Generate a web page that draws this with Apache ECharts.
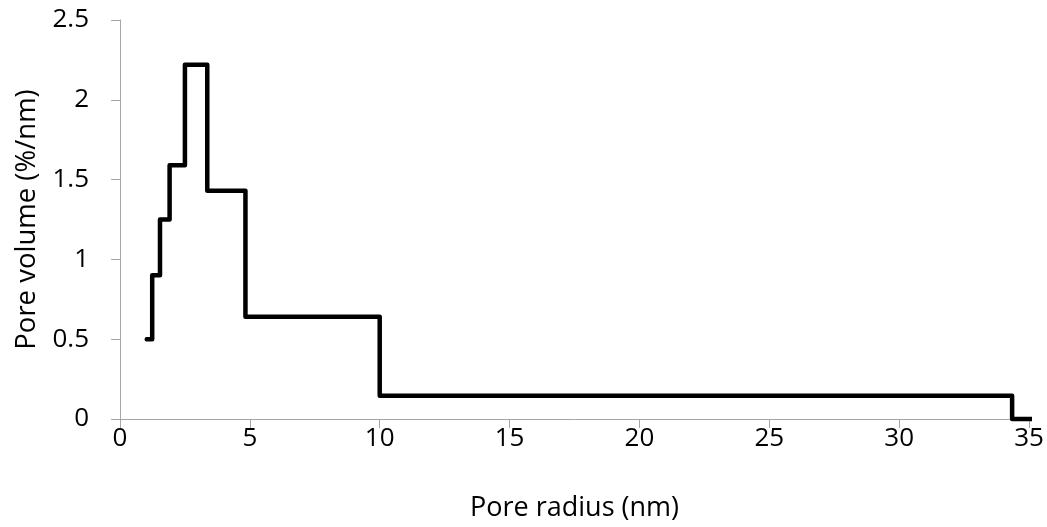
<!DOCTYPE html>
<html><head><meta charset="utf-8">
<script src="https://cdn.jsdelivr.net/npm/echarts@6/dist/echarts.min.js"></script>
<style>html,body{margin:0;padding:0;background:#fff}#c{width:1047px;height:527px}</style>
</head><body><div id="c"></div>
<script>
// Step starts (pore radius, nm) and pore volume (%/nm) held until next step
const radius = [1.03, 1.24, 1.54, 1.91, 2.5, 3.36, 4.83, 10.0, 34.35, 35.1];
const volume = [0.5, 0.9, 1.25, 1.59, 2.22, 1.43, 0.64, 0.145, 0, 0];
const xTicks = [0, 5, 10, 15, 20, 25, 30, 35];
const yTicks = [0, 0.5, 1, 1.5, 2, 2.5];

const font = 'Open Sans, Liberation Sans, sans-serif';
const fs = 26;
const chart = echarts.init(document.getElementById('c'));
chart.setOption({
  animation: false,
  grid: {left: 120, right: 18, top: 20, bottom: 106, containLabel: false},
  xAxis: {
    type: 'value', min: xTicks[0], max: xTicks[xTicks.length-1], interval: 5,
    name: 'Pore radius (nm)', nameLocation: 'middle', nameGap: 76,
    nameTextStyle: {fontFamily: font, fontSize: 27, color: '#000'},
    axisLine: {show: true, lineStyle: {color: '#a6a6a6', width: 1}},
    axisTick: {show: true, length: 9, lineStyle: {color: '#a6a6a6'}},
    axisLabel: {fontFamily: font, fontSize: fs, color: '#000', margin: 7},
    splitLine: {show: false}
  },
  yAxis: {
    type: 'value', min: yTicks[0], max: yTicks[yTicks.length-1], interval: 0.5,
    name: 'Pore volume (%/nm)', nameLocation: 'middle', nameGap: 78,
    nameTextStyle: {fontFamily: font, fontSize: 27.5, color: '#000'},
    axisLine: {show: true, lineStyle: {color: '#a6a6a6', width: 1}},
    axisTick: {show: true, length: 9, lineStyle: {color: '#a6a6a6'}},
    axisLabel: {fontFamily: font, fontSize: fs, color: '#000', margin: 31},
    splitLine: {show: false}
  },
  series: [{
    type: 'line', step: 'end', clip: false, symbol: 'none',
    data: radius.map((r, i) => [r, volume[i]]),
    lineStyle: {color: '#000', width: 4.5, join: 'round', cap: 'round'}
  }]
});
</script></body></html>
